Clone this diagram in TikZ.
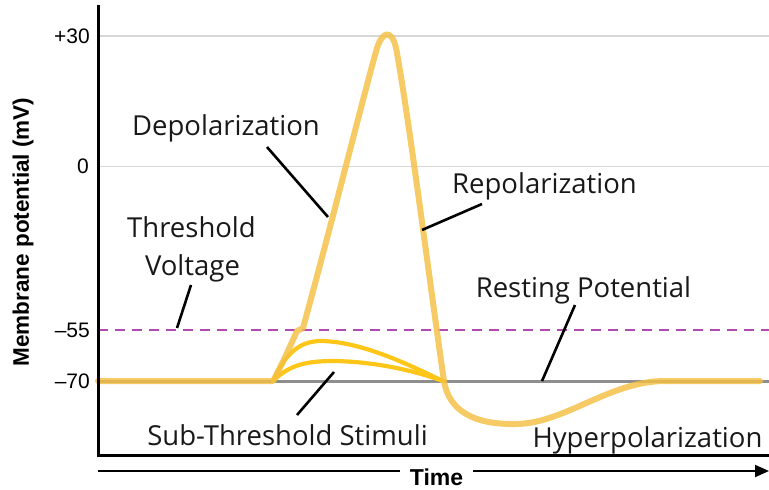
\documentclass[tikz,border=0pt]{standalone}
\usepackage{fontspec}
\setmainfont{Open Sans}
\newfontfamily\axisfont{Liberation Sans}
\usetikzlibrary{arrows.meta}
\definecolor{gridgray}{HTML}{D6D6D6}
\definecolor{restgray}{HTML}{8E8E8E}
\definecolor{apgold}{HTML}{F4C043}
\definecolor{subgold}{HTML}{FFC61A}
\definecolor{thrpurple}{HTML}{B24BB0}
\begin{document}
\begin{tikzpicture}[x=1pt,y=-1pt,
  lbl/.style={font=\fontsize{27.5}{30}\selectfont, inner sep=0, anchor=base, text=black!90},
  tick/.style={font=\axisfont\fontsize{21}{24}\selectfont, inner sep=0, anchor=east},
  gridline/.style={draw=gridgray, line width=1.6},
  ptr/.style={draw=black, line width=2.6},
  axisline/.style={draw=black, line width=3},
  apcurve/.style={draw=apgold, line width=6, opacity=0.82, line join=round, line cap=round},
  subcurve/.style={draw=subgold, line width=4.2, line cap=round},
]
\useasboundingbox (0,0) rectangle (769,490);

% grid lines
\draw[gridline] (98,36) -- (769,36);
\draw[gridline] (98,166.5) -- (769,166.5);
\draw[draw=thrpurple, line width=1.6, dash pattern=on 10pt off 7pt] (98,330) -- (769,330);
\draw[draw=restgray, line width=3] (98,381.5) -- (769,381.5);

% tick labels
\node[tick] (t30) at (90,36) {+30};
\node[tick] (t0) at (89,166.5) {0};
\node[tick] (t55) at (90,330) {–55};
\node[tick] (t70) at (90,381.5) {–70};

% axis label
\node[font=\axisfont\bfseries\fontsize{22.5}{24}\selectfont, rotate=90, inner sep=0] (ylab) at (23,232) {Membrane potential (mV)};

% sub-threshold curves
\draw[subcurve] (273,381) .. controls (288,347) and (305,341) .. (322,341) .. controls (365,342) and (415,368) .. (443,381);
\draw[subcurve] (273,381) .. controls (290,364) and (308,361) .. (335,361) .. controls (380,362) and (418,372) .. (443,381);

% action potential
\draw[apcurve] (98,381) -- (273,381) .. controls (282,365) and (291,344) .. (297,331) -- (303,328)
  .. controls (330,230) and (365,90) .. (377,48) .. controls (383,30) and (392,30) .. (396,48)
  .. controls (408,110) and (432,300) .. (444,381)
  .. controls (449,412) and (476,425) .. (517,424)
  .. controls (565,423) and (610,381) .. (665,381) -- (760,381);

% axes
\draw[axisline] (98,5) -- (98,455) -- (769,455);

% time arrow
\node[font=\axisfont\bfseries\fontsize{23}{24}\selectfont, inner sep=0] (time) at (436.5,477) {Time};
\coordinate (tstart) at (98,471);
\coordinate (tend) at (769,471);
\draw[line width=2] (tstart) -- ([xshift=-10pt]time.west |- tstart);
\draw[line width=2, -{Triangle[length=14pt,width=12pt]}] ([xshift=10pt]time.east |- tend) -- (tend);

% labels
\node[lbl] (depol) at (226,135) {Depolarization};
\node[lbl] (thr1) at (191.5,237) {Threshold};
\node[lbl] (thr2) at (192.5,275) {Voltage};
\node[lbl] (repol) at (544.5,193) {Repolarization};
\node[lbl] (rest) at (583.5,297) {Resting Potential};
\node[lbl] (subthr) at (287.5,445) {Sub-Threshold Stimuli};
\node[lbl] (hyper) at (647.5,447) {Hyperpolarization};

% pointers
\coordinate (pdep1) at (267,147);
\coordinate (pdep2) at (328,217);
\coordinate (pthr1) at (191,285);
\coordinate (pthr2) at (177,328);
\coordinate (prep1) at (482,204);
\coordinate (prep2) at (422,230);
\coordinate (prest1) at (575,305);
\coordinate (prest2) at (542,381);
\coordinate (psub1) at (297,415);
\coordinate (psub2) at (334,372);
\draw[ptr] (pdep1) -- (pdep2);
\draw[ptr] (pthr1) -- (pthr2);
\draw[ptr] (prep1) -- (prep2);
\draw[ptr] (prest1) -- (prest2);
\draw[ptr] (psub1) -- (psub2);
\end{tikzpicture}
\end{document}
